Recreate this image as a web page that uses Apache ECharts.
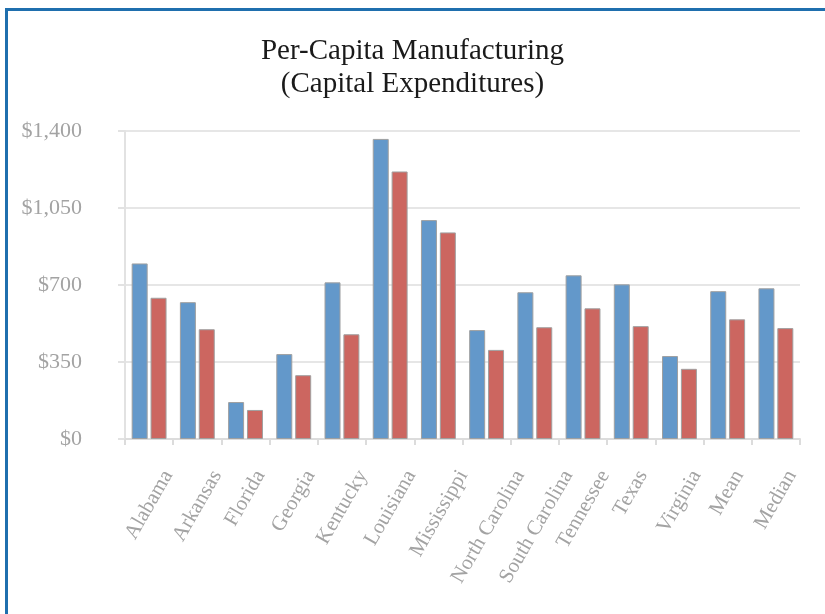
<!DOCTYPE html>
<html>
<head>
<meta charset="utf-8">
<script src="https://cdn.jsdelivr.net/npm/echarts@6/dist/echarts.min.js"></script>
<style>
  html, body { margin: 0; padding: 0; background: #fff; }
  #frame { position: absolute; left: 5px; top: 8px; width: 900px; height: 700px;
           border-top: 3px solid #1f6fae; border-left: 3px solid #1f6fae; }
  #chart { position: absolute; left: 0; top: 0; width: 825px; height: 614px; }
</style>
</head>
<body>
<div id="frame"></div>
<div id="chart"></div>
<script>
var states = ['Alabama', 'Arkansas', 'Florida', 'Georgia', 'Kentucky', 'Louisiana', 'Mississippi',
  'North Carolina', 'South Carolina', 'Tennessee', 'Texas', 'Virginia', 'Mean', 'Median'];
var blueVals = [798, 622, 168, 386, 712, 1364, 995, 495, 667, 744, 703, 377, 672, 685];
var redVals = [642, 499, 132, 290, 476, 1216, 939, 405, 508, 594, 513, 319, 544, 504];
var yTicks = [0, 350, 700, 1050, 1400];

var serif = '"Liberation Serif", "DejaVu Serif", serif';
var labelSize = 21;

// Excel centres each slanted label over its category, so longer names sit further right.
// Work out a per-label nudge from the text width.
var ctx = document.createElement('canvas').getContext('2d');
ctx.font = labelSize + 'px ' + serif;
var widths = states.map(function (s) { return ctx.measureText(s).width; });
var wRef = ctx.measureText('Alabama').width;
var wMax = Math.max.apply(null, widths);
var u0 = 0.14 * (wMax - wRef);
var labelMargin = 22 - 1.155 * u0;
var rich = { t: { lineHeight: 24 } };
widths.forEach(function (w, i) {
  var down = 22 + 0.577 * u0 + 0.2425 * (w - wRef);
  rich['g' + i] = { lineHeight: 2 * down, fontSize: 1 };
  rich['w' + i] = { width: Math.max(0, 0.14 * (wMax - w)), fontSize: 1 };
});

var myChart = echarts.init(document.getElementById('chart'));
var option = {
  animation: false,
  title: {
    text: 'Per-Capita Manufacturing\n(Capital Expenditures)',
    left: 'center',
    top: 30,
    textStyle: {
      fontFamily: serif,
      fontWeight: 'normal',
      fontSize: 29,
      lineHeight: 33,
      color: '#1a1a1a'
    }
  },
  grid: {
    left: 125,
    right: 25,
    top: 131,
    bottom: 175
  },
  xAxis: {
    type: 'category',
    data: states,
    axisLine: { lineStyle: { color: '#dcdcdc', width: 2 } },
    axisTick: { show: true, length: 6, alignWithLabel: false, lineStyle: { color: '#dcdcdc', width: 2 } },
    axisLabel: {
      rotate: 60,
      margin: labelMargin,
      interval: 0,
      formatter: function (v, i) { return '{g' + i + '| }\n{t|' + v + '}{w' + i + '| }'; },
      rich: rich,
      fontFamily: serif,
      fontSize: labelSize,
      color: '#a3a3a3'
    }
  },
  yAxis: {
    type: 'value',
    min: yTicks[0],
    max: yTicks[yTicks.length - 1],
    interval: 350,
    axisLine: { show: true, lineStyle: { color: '#e2e2e2', width: 2 } },
    axisTick: { show: true, length: 7, lineStyle: { color: '#e2e2e2', width: 2 } },
    splitLine: { lineStyle: { color: '#e6e6e6', width: 2 } },
    axisLabel: {
      margin: 43,
      fontFamily: serif,
      fontSize: 22,
      color: '#a3a3a3',
      formatter: function (v) { return '$' + v.toLocaleString('en-US'); }
    }
  },
  series: [
    {
      name: 'Blue',
      type: 'bar',
      data: blueVals,
      barWidth: 16,
      barGap: '18%',
      itemStyle: { color: '#6398ca', borderColor: '#a0a0a0', borderWidth: 1 }
    },
    {
      name: 'Red',
      type: 'bar',
      data: redVals,
      barWidth: 16,
      itemStyle: { color: '#cc6660', borderColor: '#a0a0a0', borderWidth: 1 }
    }
  ]
};
myChart.setOption(option);
</script>
</body>
</html>
